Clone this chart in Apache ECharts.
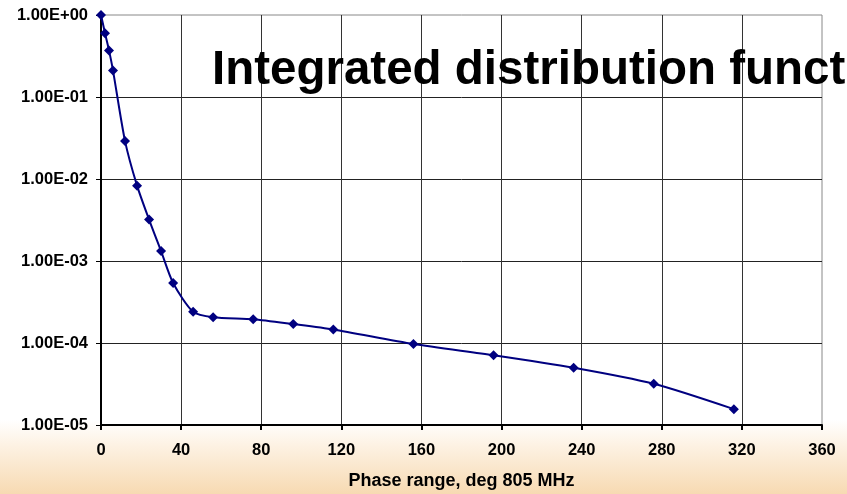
<!DOCTYPE html>
<html>
<head>
<meta charset="utf-8">
<script src="https://cdn.jsdelivr.net/npm/echarts@6/dist/echarts.min.js"></script>
<style>
  html, body { margin: 0; padding: 0; }
  #chart { width: 847px; height: 494px; }
</style>
</head>
<body>
<div id="chart"></div>
<script>
// Phase range (deg at 805 MHz)
const phaseRange = [0, 2, 4, 6, 12, 18, 24, 30, 36, 46, 56, 76, 96, 116, 156, 196, 236, 276, 316];
// Integrated distribution function (fraction outside the phase range)
const integratedFraction = [1.0, 0.60, 0.37, 0.21, 0.029, 0.0083, 0.0032, 0.00132, 0.00054, 0.00024,
  0.000206, 0.000195, 0.00017, 0.000146, 0.000097, 0.000071, 0.000050, 0.0000318, 0.0000156];
// Axis ticks
const xTicks = [0, 40, 80, 120, 160, 200, 240, 280, 320, 360];
const yTicks = [1e-5, 1e-4, 1e-3, 1e-2, 1e-1, 1];

const FONT = '"Liberation Sans", Arial, sans-serif';

// Excel-style scientific label, e.g. 1.00E-03
function sciLabel(v) {
  const exp = Math.round(Math.log10(v));
  const mant = v / Math.pow(10, exp);
  const sign = exp < 0 ? '-' : '+';
  return mant.toFixed(2) + 'E' + sign + String(Math.abs(exp)).padStart(2, '0');
}

const chart = echarts.init(document.getElementById('chart'), null, { renderer: 'canvas' });

chart.setOption({
  animation: false,
  backgroundColor: {
    type: 'linear', x: 0, y: 0, x2: 0, y2: 1,
    colorStops: [
      { offset: 0, color: '#ffffff' },
      { offset: 0.85, color: '#ffffff' },
      { offset: 0.9, color: '#fdf2e4' },
      { offset: 1, color: '#f7dab2' }
    ]
  },
  title: {
    text: 'Integrated distribution function',
    left: 212,
    top: 47,
    padding: 0,
    textStyle: { fontFamily: FONT, fontSize: 47.5, fontWeight: 'bold', color: '#000' }
  },
  grid: {
    left: 101, right: 25, top: 15, bottom: 69,
    outerBoundsMode: 'none',
    show: true,
    backgroundColor: '#ffffff',
    borderColor: '#888888',
    borderWidth: 1
  },
  xAxis: {
    type: 'value',
    min: xTicks[0],
    max: xTicks[xTicks.length - 1],
    interval: xTicks[1] - xTicks[0],
    name: 'Phase range, deg 805 MHz',
    nameLocation: 'middle',
    nameGap: 47,
    nameTextStyle: { fontFamily: FONT, fontSize: 18, fontWeight: 'bold', color: '#000' },
    axisLine: { lineStyle: { color: '#000', width: 2 } },
    axisTick: { show: true, length: 5, lineStyle: { color: '#000', width: 2 } },
    axisLabel: { fontFamily: FONT, fontSize: 16.5, fontWeight: 'bold', color: '#000', margin: 17 },
    splitLine: { show: true, showMinLine: false, showMaxLine: false, lineStyle: { color: '#333', width: 1 } }
  },
  yAxis: {
    type: 'log',
    logBase: 10,
    min: yTicks[0],
    max: yTicks[yTicks.length - 1],
    axisLine: { lineStyle: { color: '#000', width: 2 } },
    axisTick: { show: true, length: 5, lineStyle: { color: '#000', width: 1 } },
    axisLabel: {
      fontFamily: FONT, fontSize: 16.5, fontWeight: 'bold', color: '#000', margin: 13,
      formatter: sciLabel
    },
    splitLine: { show: true, showMinLine: false, showMaxLine: false, lineStyle: { color: '#222', width: 1 } },
    minorTick: { show: false }
  },
  series: [{
    type: 'line',
    data: phaseRange.map((x, i) => [x, integratedFraction[i]]),
    smooth: 0.25,
    symbol: 'diamond',
    symbolSize: 10,
    itemStyle: { color: '#000080' },
    lineStyle: { color: '#000080', width: 2 },
    z: 5
  }]
});
</script>
</body>
</html>
